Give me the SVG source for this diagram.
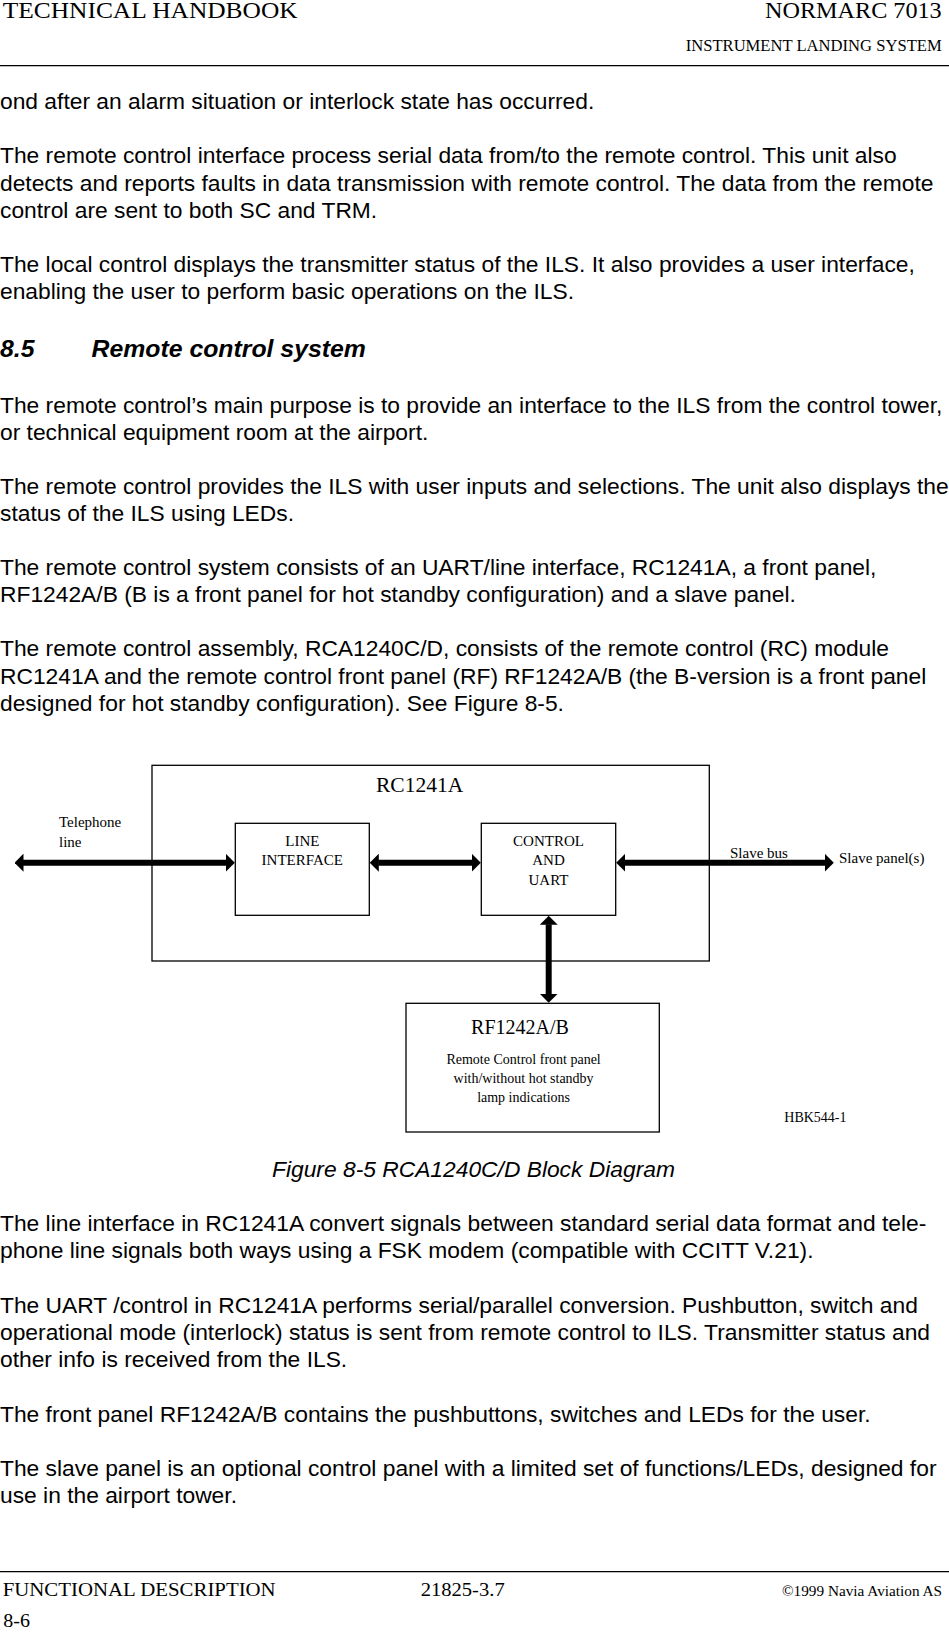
<svg xmlns="http://www.w3.org/2000/svg" width="949" height="1632" viewBox="0 0 949 1632">
<style>
.hdr{font-family:"Liberation Serif","Times New Roman",serif;fill:#000}
.body{font-family:"Liberation Sans",Arial,sans-serif;font-size:22.8px;fill:#000}
.head{font-family:"Liberation Sans",Arial,sans-serif;font-size:24.8px;font-weight:bold;font-style:italic;fill:#000}
.cap{font-family:"Liberation Sans",Arial,sans-serif;font-size:22.8px;font-style:italic;fill:#000}
.dg{font-family:"Liberation Serif","Times New Roman",serif;fill:#000}
.box{fill:#fff;stroke:#000;stroke-width:1.3}
.rule{stroke:#000;stroke-width:1.3}
.conn{stroke:#000;stroke-width:6;fill:none;marker-start:url(#ah);marker-end:url(#ah)}
</style>
<defs>
<marker id="ah" viewBox="0 0 9 18" markerWidth="9" markerHeight="18" refX="0.5" refY="9" orient="auto-start-reverse" markerUnits="userSpaceOnUse">
<path d="M0,0 L9,9 L0,18 Z" fill="#000"/>
</marker>
</defs>
<rect width="949" height="1632" fill="#fff"/>

<g id="page-header">
<text class="hdr" x="2.7" y="18.3" font-size="23.5" textLength="295" lengthAdjust="spacingAndGlyphs">TECHNICAL HANDBOOK</text>
<text class="hdr" x="765" y="18.3" font-size="23.5" textLength="176.7" lengthAdjust="spacingAndGlyphs">NORMARC 7013</text>
<text class="hdr" x="685.7" y="50.7" font-size="16" textLength="256" lengthAdjust="spacingAndGlyphs">INSTRUMENT LANDING SYSTEM</text>
<line class="rule" x1="0" y1="65.7" x2="949" y2="65.7"/>
</g>

<g id="body-top">
<text class="body" x="0" y="109.3">ond after an alarm situation or interlock state has occurred.</text>
<text class="body" x="0" y="163.4">The remote control interface process serial data from/to the remote control. This unit also</text>
<text class="body" x="0" y="190.5">detects and reports faults in data transmission with remote control. The data from the remote</text>
<text class="body" x="0" y="217.6">control are sent to both SC and TRM.</text>
<text class="body" x="0" y="271.7">The local control displays the transmitter status of the ILS. It also provides a user interface,</text>
<text class="body" x="0" y="298.8">enabling the user to perform basic operations on the ILS.</text>
<text class="head" x="0" y="357">8.5</text>
<text class="head" x="91.6" y="357">Remote control system</text>
<text class="body" x="0" y="412.8">The remote control’s main purpose is to provide an interface to the ILS from the control tower,</text>
<text class="body" x="0" y="439.9">or technical equipment room at the airport.</text>
<text class="body" x="0" y="494">The remote control provides the ILS with user inputs and selections. The unit also displays the</text>
<text class="body" x="0" y="521.1">status of the ILS using LEDs.</text>
<text class="body" x="0" y="575.2">The remote control system consists of an UART/line interface, RC1241A, a front panel,</text>
<text class="body" x="0" y="602.3">RF1242A/B (B is a front panel for hot standby configuration) and a slave panel.</text>
<text class="body" x="0" y="656.4">The remote control assembly, RCA1240C/D, consists of the remote control (RC) module</text>
<text class="body" x="0" y="683.5">RC1241A and the remote control front panel (RF) RF1242A/B (the B-version is a front panel</text>
<text class="body" x="0" y="710.6">designed for hot standby configuration). See Figure 8-5.</text>
</g>

<g id="rc1241a">
<rect class="box" x="152" y="765.3" width="557.3" height="195.7"/>
<text class="dg" x="376" y="791.7" font-size="21.5">RC1241A</text>
</g>

<g id="line-interface">
<rect class="box" x="235.3" y="823.3" width="134" height="92"/>
<text class="dg" x="302.3" y="846" font-size="15" text-anchor="middle">LINE</text>
<text class="dg" x="302.3" y="864.7" font-size="15" text-anchor="middle">INTERFACE</text>
</g>

<g id="control-uart">
<rect class="box" x="481.3" y="823.3" width="134.4" height="92"/>
<text class="dg" x="548.5" y="846" font-size="15" text-anchor="middle">CONTROL</text>
<text class="dg" x="548.5" y="865" font-size="15" text-anchor="middle">AND</text>
<text class="dg" x="548.5" y="884.5" font-size="15" text-anchor="middle">UART</text>
</g>

<g id="rf1242">
<rect class="box" x="406" y="1003.3" width="253.3" height="128.7"/>
<text class="dg" x="520" y="1034" font-size="20" text-anchor="middle">RF1242A/B</text>
<text class="dg" x="523.6" y="1064.3" font-size="14" text-anchor="middle">Remote Control front panel</text>
<text class="dg" x="523.6" y="1083.3" font-size="14" text-anchor="middle">with/without hot standby</text>
<text class="dg" x="523.6" y="1101.7" font-size="14" text-anchor="middle">lamp indications</text>
</g>

<g id="external-labels">
<text class="dg" x="59" y="827" font-size="15">Telephone</text>
<text class="dg" x="59" y="846.7" font-size="15">line</text>
<text class="dg" x="730" y="858.3" font-size="15">Slave bus</text>
<text class="dg" x="839" y="863.3" font-size="15">Slave panel(s)</text>
<text class="dg" x="784.3" y="1122.3" font-size="14">HBK544-1</text>
</g>

<g id="connectors">
<line class="conn" x1="23" y1="862.7" x2="226.3" y2="862.7"/>
<line class="conn" x1="378.3" y1="862.7" x2="472.3" y2="862.7"/>
<line class="conn" x1="624.7" y1="862.7" x2="825.3" y2="862.7"/>
<line class="conn" x1="548.7" y1="924.3" x2="548.7" y2="994.3"/>
</g>

<g id="body-bottom">
<text class="cap" x="272" y="1176.7">Figure 8-5 RCA1240C/D Block Diagram</text>
<text class="body" x="0" y="1231">The line interface in RC1241A convert signals between standard serial data format and tele-</text>
<text class="body" x="0" y="1258">phone line signals both ways using a FSK modem (compatible with CCITT V.21).</text>
<text class="body" x="0" y="1312.5">The UART /control in RC1241A performs serial/parallel conversion. Pushbutton, switch and</text>
<text class="body" x="0" y="1339.5">operational mode (interlock) status is sent from remote control to ILS. Transmitter status and</text>
<text class="body" x="0" y="1366.5">other info is received from the ILS.</text>
<text class="body" x="0" y="1421.5">The front panel RF1242A/B contains the pushbuttons, switches and LEDs for the user.</text>
<text class="body" x="0" y="1476">The slave panel is an optional control panel with a limited set of functions/LEDs, designed for</text>
<text class="body" x="0" y="1503">use in the airport tower.</text>
</g>

<g id="page-footer">
<line class="rule" x1="0" y1="1571.7" x2="949" y2="1571.7"/>
<text class="hdr" x="2.7" y="1596" font-size="19" textLength="273" lengthAdjust="spacingAndGlyphs">FUNCTIONAL DESCRIPTION</text>
<text class="hdr" x="420.7" y="1596" font-size="19" textLength="84" lengthAdjust="spacingAndGlyphs">21825-3.7</text>
<text class="hdr" x="782" y="1596" font-size="15" textLength="160" lengthAdjust="spacingAndGlyphs">©1999 Navia Aviation AS</text>
<text class="hdr" x="3.3" y="1626.7" font-size="19" textLength="26.7" lengthAdjust="spacingAndGlyphs">8-6</text>
</g>
</svg>
